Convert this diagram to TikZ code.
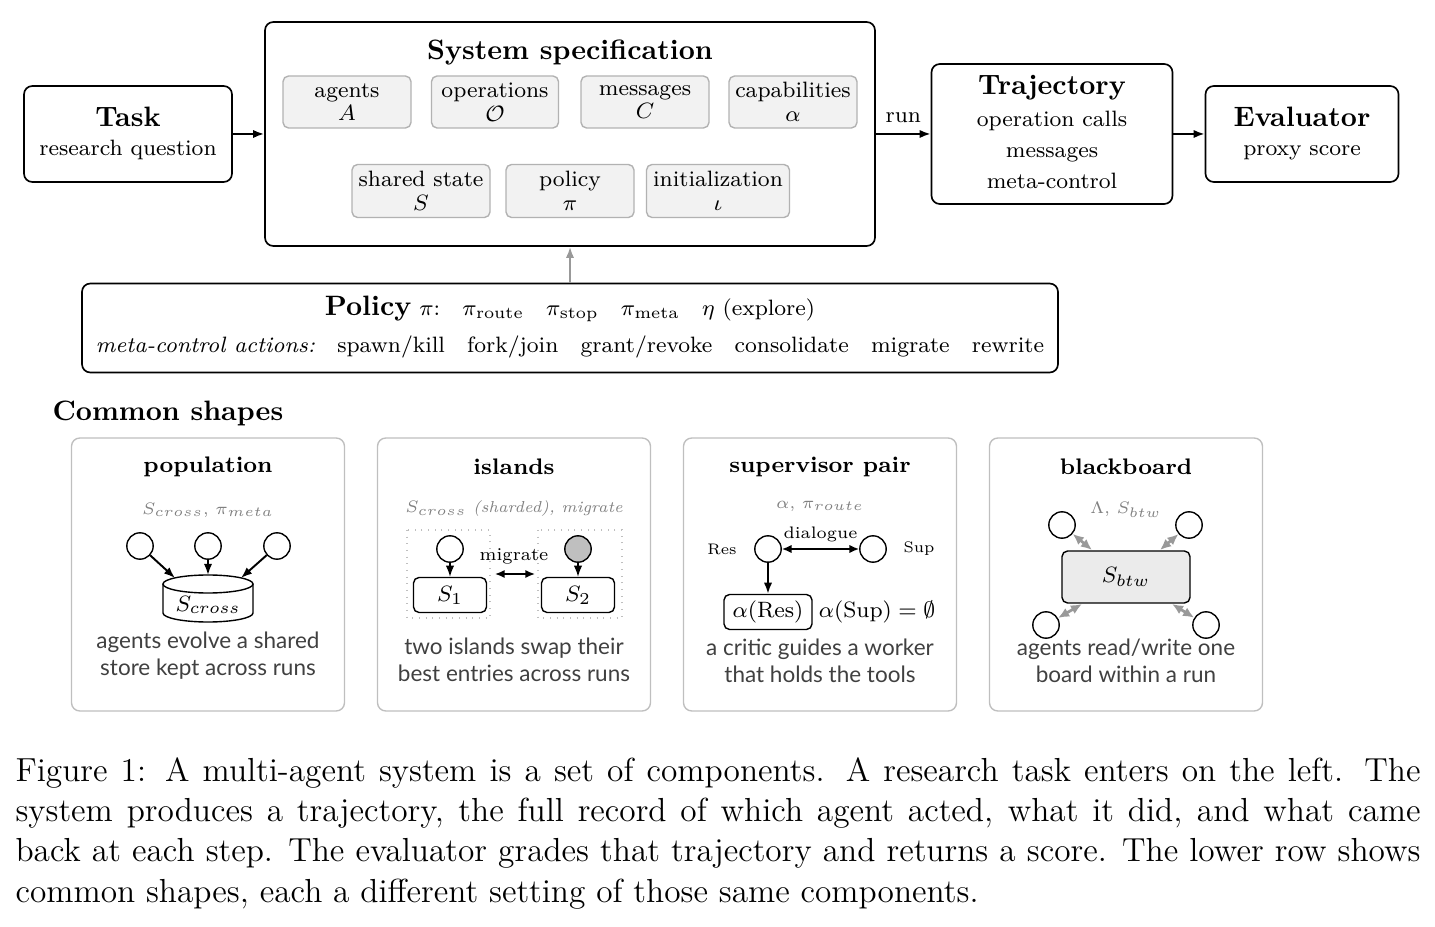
\documentclass[tikz,border=0pt]{standalone}
\usepackage{fontspec}
\usepackage{amssymb}
\newfontfamily\capsans{Lato}
\usetikzlibrary{arrows.meta,shapes.geometric}
\begin{document}
\begin{tikzpicture}[x=0.36pt,y=-0.36pt,
  box/.style={draw,rounded corners=3pt,line width=0.6pt},
  sub/.style={draw=black!30,fill=black!5,rounded corners=2pt,line width=0.5pt,align=center,inner sep=0pt,font=\fontsize{8}{9.5}\selectfont},
  panel/.style={draw=black!25,rounded corners=3pt,line width=0.5pt},
  ag/.style={draw,circle,minimum size=9.5pt,inner sep=0pt,line width=0.5pt},
  arr/.style={-{Latex[length=4pt,width=3pt]},line width=0.7pt},
  darr/.style={{Latex[length=3.5pt,width=3pt]}-{Latex[length=3.5pt,width=3pt]},line width=0.6pt},
  garr/.style={{Latex[length=4pt,width=3.5pt]}-{Latex[length=4pt,width=3.5pt]},line width=1pt,draw=black!40},
  ttl/.style={font=\bfseries\fontsize{10.1}{12}\selectfont},
  nt/.style={font=\fontsize{8}{9.5}\selectfont,text height=5.5pt,text depth=1.6pt},
  ptl/.style={font=\bfseries\fontsize{8.1}{9.5}\selectfont},
  glab/.style={text=black!50,font=\fontsize{5.7}{7}\selectfont},
  pcap/.style={font=\capsans\fontsize{8.1}{9.8}\selectfont,text=black!75,align=center}]
\useasboundingbox (0,0) rectangle (1435,927);
% top row
\node[box,minimum width=208*0.36pt,minimum height=96*0.36pt] (task) at (128,134) {};
\node[ttl] at (128,117) {Task};
\node[nt] at (128,150) {research question};
\node[box,minimum width=610*0.36pt,minimum height=224*0.36pt] (sys) at (570,134) {};
\node[ttl] at (570,52) {System specification};
\foreach \n/\x/\w/\a/\b in {ag/347/128/agents/$A$,op/495/127/operations/$\mathcal{O}$,me/645/128/messages/$C$,ca/793/128/capabilities/$\alpha$}
  \node[sub,minimum width=\w*0.36pt,minimum height=52*0.36pt] (\n) at (\x,102) {\a\\[-1pt]\b};
\foreach \n/\x/\w/\a/\b in {ss/421/138/shared state/$S$,po/570/128/policy/$\pi$,in/718/143/initialization/$\iota$}
  \node[sub,minimum width=\w*0.36pt,minimum height=53*0.36pt] (\n) at (\x,191) {\a\\[-1pt]\b};
\node[box,minimum width=241*0.36pt,minimum height=140*0.36pt] (traj) at (1052,134) {};
\node[ttl] at (1052,88) {Trajectory};
\node[nt] at (1052,121) {operation calls};
\node[nt] at (1052,152) {messages};
\node[nt] at (1052,183) {meta-control};
\node[box,minimum width=193*0.36pt,minimum height=96*0.36pt] (eval) at (1302,134) {};
\node[ttl] at (1302,117) {Evaluator};
\node[nt] at (1302,150) {proxy score};
\draw[arr] (task.east) -- (sys.west|-task.east);
\draw[arr] (sys.east|-traj.west) -- node[above,nt,yshift=-1pt]{run} (traj.west);
\draw[arr] (traj.east) -- (eval.west);
% policy
\node[box,minimum width=976*0.36pt,minimum height=89*0.36pt] (pol) at (570,328) {};
\node[font=\fontsize{8}{9.5}\selectfont] at (570,309) {\textbf{\fontsize{10.1}{12}\selectfont Policy} $\pi$:\quad $\pi_{\mathrm{route}}$\quad $\pi_{\mathrm{stop}}$\quad $\pi_{\mathrm{meta}}$\quad $\eta$ (explore)};
\node[nt] at (570,347) {\textit{meta-control actions:}\quad spawn/kill\quad fork/join\quad grant/revoke\quad consolidate\quad migrate\quad rewrite};
\draw[-{Latex[length=4pt,width=3pt]},draw=black!40,line width=0.7pt] (pol.north) -- (sys.south);
% common shapes
\node[ttl,anchor=west,inner sep=0pt] at (52,413) {Common shapes};
\foreach \n/\x in {p1/208,p2/514,p3/820,p4/1126}
  \node[panel,minimum width=273*0.36pt,minimum height=273*0.36pt] (\n) at (\x,574.5) {};
% population
\node[ptl] at (208,467) {population};
\node[glab] at (208,510) {$S_{cross}$, $\pi_{meta}$};
\draw[line width=0.5pt,fill=white] (163,584) -- (163,613) arc[start angle=180,end angle=0,x radius=45,y radius=9] -- (253,584);
\draw[line width=0.5pt,fill=white] (208,584) ellipse[x radius=45,y radius=9];
\coordinate (cyltop) at (208,575);
\node[font=\fontsize{8}{9}\selectfont] (cyl) at (208,605) {$S_{cross}$};
\node[ag] (a1) at (140,546) {};
\node[ag] (a2) at (208,546) {};
\node[ag] (a3) at (277,546) {};
\draw[arr] (a1) -- (175,578);
\draw[arr] (a2) -- (cyltop);
\draw[arr] (a3) -- (241,578);
\node[pcap] at (208,656) {agents evolve a shared\\store kept across runs};
% islands
\node[ptl] at (514,467) {islands};
\node[glab] at (514,509) {$S_{cross}$ \textit{(sharded), migrate}};
\draw[black!25,dotted,line width=0.4pt] (407,530) rectangle (490,618);
\draw[black!25,dotted,line width=0.4pt] (538,530) rectangle (622,618);
\node[ag] (i1) at (450,549) {};
\node[ag,fill=black!25] (i2) at (578,549) {};
\node[draw,rounded corners=2pt,minimum width=73*0.36pt,minimum height=35*0.36pt,inner sep=0pt,line width=0.5pt,font=\fontsize{8}{9}\selectfont] (s1) at (450,595) {$S_1$};
\node[draw,rounded corners=2pt,minimum width=73*0.36pt,minimum height=35*0.36pt,inner sep=0pt,line width=0.5pt,font=\fontsize{8}{9}\selectfont] (s2) at (578,595) {$S_2$};
\draw[arr,line width=0.5pt] (i1) -- (s1);
\draw[arr,line width=0.5pt] (i2) -- (s2);
\node[font=\fontsize{6.5}{8}\selectfont] at (514,556) {migrate};
\coordinate (m1) at (495,574); \coordinate (m2) at (535,574);
\draw[darr] (m1) -- (m2);
\node[pcap] at (514,660) {two islands swap their\\best entries across runs};
% supervisor
\node[ptl] at (820,467) {supervisor pair};
\node[glab] at (820,506) {$\alpha$, $\pi_{route}$};
\node[ag] (res) at (768,549) {};
\node[ag] (sup) at (873,549) {};
\node[font=\fontsize{5.5}{7}\selectfont] at (722,549) {Res};
\node[font=\fontsize{5.5}{7}\selectfont] at (919,549) {Sup};
\draw[darr] (res) -- node[above,font=\fontsize{6}{7}\selectfont,yshift=-1pt]{dialogue} (sup);
\node[draw,rounded corners=2pt,minimum width=88*0.36pt,minimum height=35*0.36pt,inner sep=0pt,line width=0.5pt,font=\fontsize{8}{9}\selectfont] (ar) at (768,612) {$\alpha(\mathrm{Res})$};
\draw[arr] (res) -- (ar.north);
\node[font=\fontsize{8}{9}\selectfont] at (877,612) {$\alpha(\mathrm{Sup})=\emptyset$};
\node[pcap] at (820,661) {a critic guides a worker\\that holds the tools};
% blackboard
\node[ptl] at (1126,467) {blackboard};
\node[glab] at (1126,510) {$\Lambda$, $S_{btw}$};
\node[draw,fill=black!8,rounded corners=2pt,minimum width=128*0.36pt,minimum height=52*0.36pt,inner sep=0pt,line width=0.5pt,font=\fontsize{8}{9}\selectfont] (bb) at (1126,577) {$S_{btw}$};
\node[ag] (b1) at (1062,525) {};
\node[ag] (b2) at (1189,525) {};
\node[ag] (b3) at (1046,625) {};
\node[ag] (b4) at (1206,625) {};
\draw[garr] (b1) -- (1092,550);
\draw[garr] (b2) -- (1160,550);
\draw[garr] (b3) -- (1082,604);
\draw[garr] (b4) -- (1172,604);
\node[pcap] at (1126,661) {agents read/write one\\board within a run};
% caption
\node[anchor=north west,text width=1405*0.36pt,align=justify,inner sep=0pt,font=\fontsize{12}{14.5}\selectfont] at (15,757) {Figure 1: A multi-agent system is a set of components. A research task enters on the left. The system produces a trajectory, the full record of which agent acted, what it did, and what came back at each step. The evaluator grades that trajectory and returns a score. The lower row shows common shapes, each a different setting of those same components.};
\end{tikzpicture}
\end{document}
